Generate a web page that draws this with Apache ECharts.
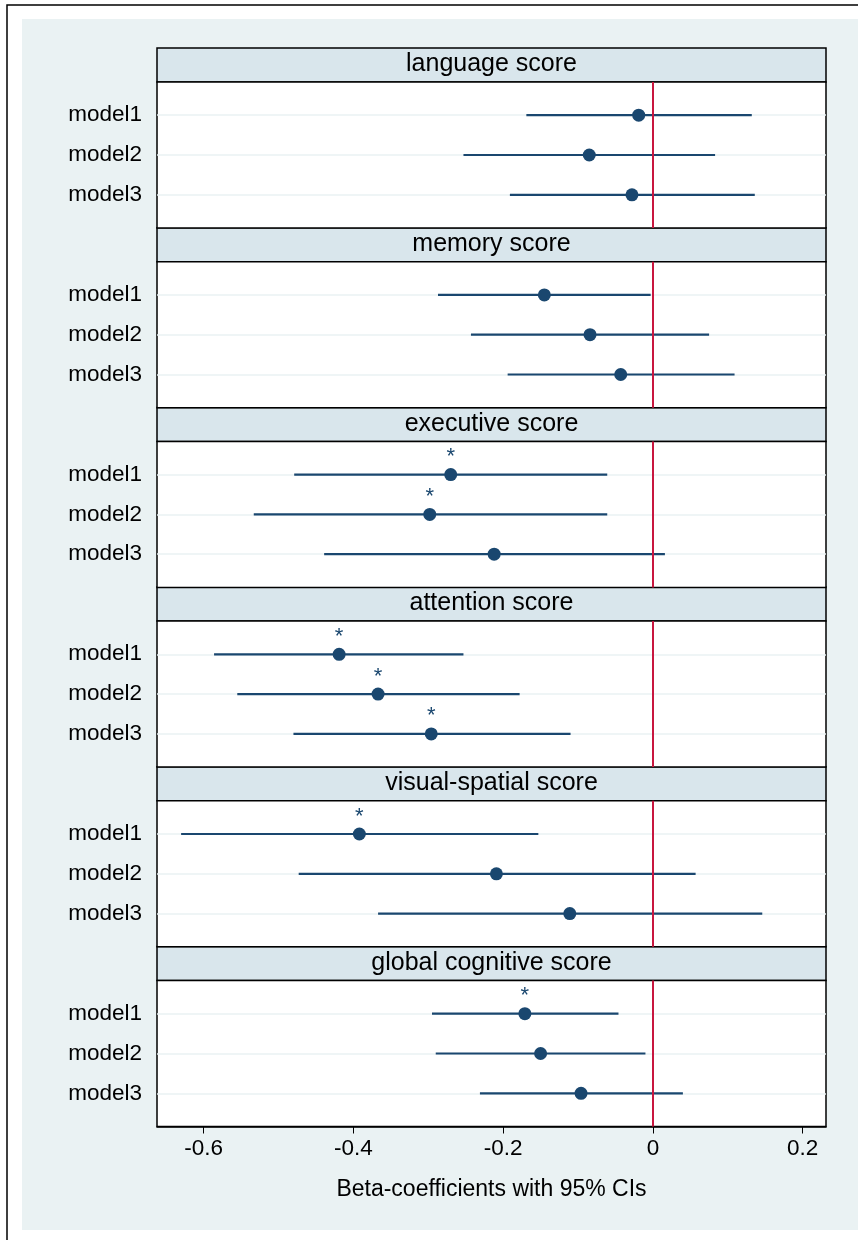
<!DOCTYPE html>
<html>
<head>
<meta charset="utf-8">
<script src="https://cdn.jsdelivr.net/npm/echarts@6/dist/echarts.min.js"></script>
<style>
html, body { margin: 0; padding: 0; background: #fff; }
#main { width: 858px; height: 1240px; }
</style>
</head>
<body>
<div id="main"></div>
<script>
// 各面板标题
var panels = ['language score', 'memory score', 'executive score', 'attention score', 'visual-spatial score', 'global cognitive score'];
var models = ['model1', 'model2', 'model3'];
// 点估计
var est = [
    [-0.019, -0.085, -0.028],
    [-0.145, -0.084, -0.043],
    [-0.270, -0.298, -0.212],
    [-0.419, -0.367, -0.296],
    [-0.392, -0.209, -0.111],
    [-0.171, -0.150, -0.096]
];
// 95% CI 下限
var lo = [
    [-0.169, -0.253, -0.191],
    [-0.287, -0.243, -0.194],
    [-0.479, -0.533, -0.439],
    [-0.586, -0.555, -0.480],
    [-0.630, -0.473, -0.367],
    [-0.295, -0.290, -0.231]
];
// 95% CI 上限
var hi = [
    [0.132, 0.083, 0.136],
    [-0.003, 0.075, 0.109],
    [-0.061, -0.061, 0.016],
    [-0.253, -0.178, -0.110],
    [-0.153, 0.057, 0.146],
    [-0.046, -0.010, 0.040]
];
// 显著性 (*)
var sig = [
    [0, 0, 0],
    [0, 0, 0],
    [1, 1, 0],
    [1, 1, 1],
    [1, 0, 0],
    [1, 0, 0]
];
var xTickLabels = ['-0.6', '-0.4', '-0.2', '0', '0.2'];
var xTitle = 'Beta-coefficients with 95% CIs';

var FONT = "'Liberation Sans', Arial, sans-serif";
var NAVY = '#1A476F';
var RED = '#C8173F';
var plotLeft = 157, plotW = 669;
var firstTop = 82, step = 179.7, stripH = 34, plotH = 146;
var xMin = -0.6622, xMax = 0.2311;

// y 轴: 23 个类目, 模型在 5/11/17
var rowIdx = [5, 11, 17];
var yCats = [];
for (var c = 0; c < 23; c++) yCats.push('');
for (var m = 0; m < models.length; m++) yCats[rowIdx[m]] = models[m];

var chart = echarts.init(document.getElementById('main'));

var grids = [], xAxes = [], yAxes = [], series = [], titles = [];
var graphics = [
    { type: 'rect', z: -20, shape: { x: 7, y: 5, width: 900, height: 1300 }, style: { fill: '#fff', stroke: '#000', lineWidth: 1.5 } },
    { type: 'rect', z: -19, shape: { x: 22, y: 19, width: 860, height: 1211 }, style: { fill: '#EAF2F3' } }
];

for (var i = 0; i < panels.length; i++) {
    var gTop = firstTop + i * step;
    var last = (i === panels.length - 1);
    grids.push({ left: plotLeft, top: gTop, width: plotW, height: plotH, show: true, backgroundColor: '#fff', borderColor: '#000', borderWidth: 1.5 });
    graphics.push({ type: 'rect', z: -5, shape: { x: plotLeft, y: gTop - stripH, width: plotW, height: stripH }, style: { fill: '#D9E6EC', stroke: '#000', lineWidth: 1.5 } });
    titles.push({
        text: panels[i], left: plotLeft + plotW / 2, textAlign: 'center', top: gTop - stripH + 3, padding: 0,
        textStyle: { fontFamily: FONT, fontSize: 25, fontWeight: 'normal', color: '#000', lineHeight: 27 }
    });
    xAxes.push({
        type: 'value', gridIndex: i, min: xMin, max: xMax, show: last,
        name: last ? xTitle : '', nameLocation: 'middle', nameGap: 52,
        nameTextStyle: { fontFamily: FONT, fontSize: 23, color: '#000' },
        axisLine: { show: true, lineStyle: { color: '#000', width: 1.5 } },
        axisTick: { show: false },
        axisLabel: { show: false },
        splitLine: { show: false }
    });
    yAxes.push({
        type: 'category', gridIndex: i, inverse: true, data: yCats, boundaryGap: false,
        axisLine: { show: false },
        axisTick: { show: false },
        axisLabel: { interval: 0, margin: 15, fontFamily: FONT, fontSize: 22.5, color: '#000' },
        splitLine: {
            show: true,
            interval: function (idx) { return rowIdx.indexOf(idx) >= 0; },
            lineStyle: { color: '#EAF2F3', width: 1.5 }
        }
    });

    var ciData = [], ptData = [];
    for (var j = 0; j < models.length; j++) {
        ciData.push([lo[i][j], hi[i][j], rowIdx[j]]);
        ptData.push({ value: [est[i][j], rowIdx[j]], label: { show: sig[i][j] === 1 } });
    }
    series.push({
        type: 'custom', xAxisIndex: i, yAxisIndex: i, data: ciData,
        encode: { x: [0, 1], y: 2 },
        renderItem: function (params, api) {
            var a = api.coord([api.value(0), api.value(2)]);
            var b = api.coord([api.value(1), api.value(2)]);
            return { type: 'line', shape: { x1: a[0], y1: a[1], x2: b[0], y2: b[1] }, style: { stroke: NAVY, lineWidth: 2.2 } };
        }
    });
    series.push({
        type: 'scatter', xAxisIndex: i, yAxisIndex: i, data: ptData,
        symbol: 'circle', symbolSize: 13, itemStyle: { color: NAVY, opacity: 1 },
        label: { position: 'top', distance: 0, formatter: '*', fontFamily: FONT, fontSize: 22, color: NAVY },
        markLine: {
            silent: true, symbol: 'none', label: { show: false },
            lineStyle: { color: RED, width: 2, type: 'solid' },
            data: [{ xAxis: 0 }]
        }
    });
}

// 底部刻度轴: 只画 -0.6 到 0.2 的刻度
var lastTop = firstTop + (panels.length - 1) * step;
var px0 = plotLeft + (-0.6 - xMin) / (xMax - xMin) * plotW;
var px1 = plotLeft + (0.2 - xMin) / (xMax - xMin) * plotW;
grids.push({ left: px0, top: lastTop, width: px1 - px0, height: plotH, show: false });
xAxes.push({
    type: 'value', gridIndex: panels.length, min: -0.6, max: 0.2, interval: 0.2,
    axisLine: { show: false },
    axisTick: { show: true, length: 7, lineStyle: { color: '#000', width: 1 } },
    axisLabel: {
        margin: 11, fontFamily: FONT, fontSize: 22.5, color: '#000',
        formatter: function (v) { return xTickLabels[Math.round((v + 0.6) / 0.2)]; }
    },
    splitLine: { show: false }
});
yAxes.push({ type: 'value', gridIndex: panels.length, show: false, min: 0, max: 1 });

var option = {
    animation: false,
    backgroundColor: '#fff',
    title: titles,
    graphic: graphics,
    grid: grids,
    xAxis: xAxes,
    yAxis: yAxes,
    series: series
};
chart.setOption(option);
</script>
</body>
</html>
